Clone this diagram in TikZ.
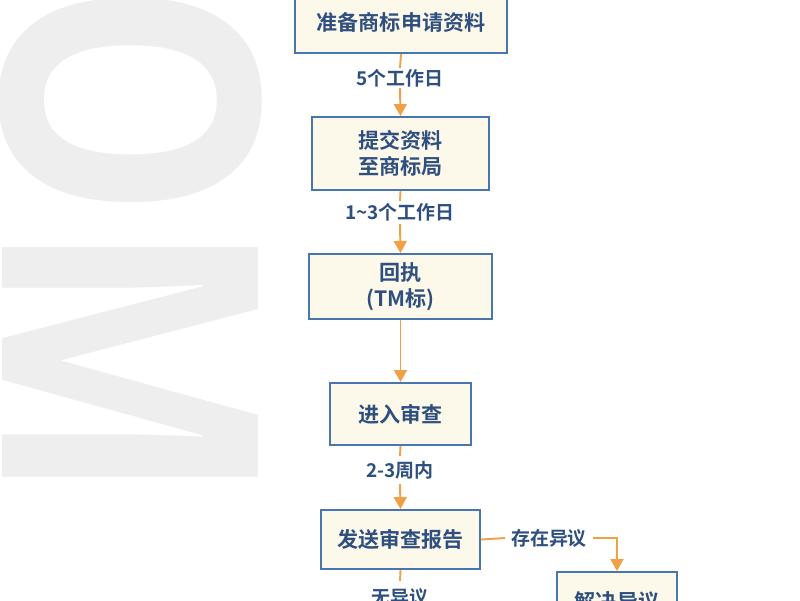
\documentclass[tikz,border=0pt]{standalone}
\usepackage{fontspec}
\usetikzlibrary{arrows.meta}
\newfontfamily\cjkfont{Noto Sans CJK SC}[BoldFont={* Bold}]
\newfontfamily\bgfont{Open Sans}[BoldFont={* Bold}]
\definecolor{boxfill}{HTML}{FDF9EA}
\definecolor{boxline}{HTML}{4A76AE}
\definecolor{txtblue}{HTML}{2E4F80}
\definecolor{arrorange}{HTML}{F2A046}
\definecolor{bggray}{HTML}{EEEEEE}
\tikzset{
  stepbox/.style={draw=boxline, fill=boxfill, line width=1.1pt, text=txtblue,
    font=\cjkfont\bfseries\fontsize{12}{15}\selectfont, align=center, inner sep=0pt},
  lbl/.style={text=txtblue, font=\cjkfont\bfseries\fontsize{10.8}{13}\selectfont, inner sep=0pt},
  conn/.style={draw=arrorange, line width=1.1pt},
  arr/.style={conn, -{Triangle[length=0.24cm, width=0.26cm]}},
}
\begin{document}
\begin{tikzpicture}[x=0.02cm, y=-0.02cm]
\useasboundingbox (0,0) rectangle (800,600);
\begin{scope}
\clip (0,0) rectangle (800,600);
\node[rotate=-90, anchor=base west, inner sep=0pt, text=bggray,
  font=\bgfont\bfseries\fontsize{204}{204}\selectfont] (bg) at (3,-20) {\scalebox{0.84}[1]{OM}};

\node[stepbox, minimum width=212*0.02cm, minimum height=62*0.02cm] (b1) at (401,22) {准备商标申请资料};
\node[stepbox, minimum width=177*0.02cm, minimum height=73*0.02cm] (b2) at (400.5,153.5) {提交资料\\至商标局};
\node[stepbox, minimum width=183*0.02cm, minimum height=65*0.02cm] (b3) at (400.5,286.5) {回执\\(TM标)};
\node[stepbox, minimum width=141*0.02cm, minimum height=62*0.02cm] (b4) at (400.5,414) {进入审查};
\node[stepbox, minimum width=159*0.02cm, minimum height=59*0.02cm] (b5) at (400.5,539.5) {发送审查报告};
\node[stepbox, minimum width=120*0.02cm, minimum height=60*0.02cm] (b6) at (617,602) {解决异议};

\node[lbl] (l1) at (400,78) {5个工作日};
\node[lbl] (l2) at (400,212) {1\textasciitilde3个工作日};
\node[lbl] (l4) at (400,470) {2-3周内};
\node[lbl] (l5) at (549,538) {存在异议};
\node[lbl] (l6) at (400,597) {无异议};

\coordinate (l1t) at (400,68);
\coordinate (l1b) at (400,88);
\coordinate (l2t) at (400,201);
\coordinate (l2b) at (400,224);
\coordinate (l4t) at (400,456);
\coordinate (l4b) at (400,484);
\coordinate (l5l) at (505,538);
\coordinate (l5r) at (593,538);
\coordinate (c5) at (617,538);
\coordinate (l6t) at (400,581);

\draw[conn] (b1.south) -- (l1t);
\draw[arr] (l1b) -- (b2.north);
\draw[conn] (b2.south) -- (l2t);
\draw[arr] (l2b) -- (b3.north);
\draw[arr] (b3.south) -- (b4.north);
\draw[conn] (b4.south) -- (l4t);
\draw[arr] (l4b) -- (b5.north);
\draw[conn] (b5.east) -- (l5l);
\draw[arr] (l5r) -- (c5) -- (b6.north);
\draw[conn] (b5.south) -- (l6t);
\end{scope}
\end{tikzpicture}
\end{document}
